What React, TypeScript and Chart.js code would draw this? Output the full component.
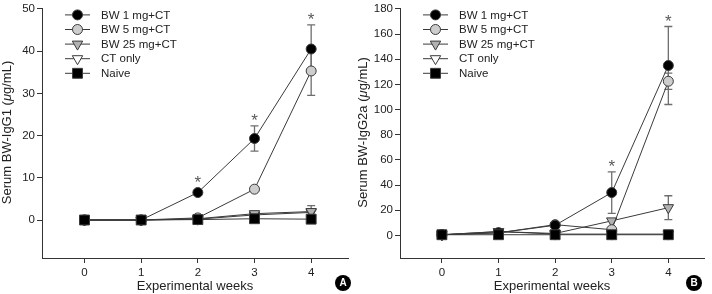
import React, { useEffect, useRef } from 'react';
import { Chart, registerables } from 'chart.js';
import { drawPoint } from 'chart.js/helpers';

Chart.register(...registerables);

const weeks = [0, 1, 2, 3, 4];
const seriesLabels = ['BW 1 mg+CT', 'BW 5 mg+CT', 'BW 25 mg+CT', 'CT only', 'Naive'];

// Panel A: serum BW-IgG1 (µg/mL)
const igg1Bw1 = [0, 0, 6.5, 19.3, 40.5];
const igg1Bw5 = [0, 0, 0.5, 7.3, 35.3];
const igg1Bw25 = [0, 0, 0.3, 1.5, 2.0];
const igg1Ct = [0, 0, 0.2, 1.2, 1.8];
const igg1Naive = [0, 0, 0.1, 0.3, 0.2];
const igg1Bw1Err = [0, 0, 0, 3.0, 5.7];
const igg1Bw5Err = [0, 0, 0, 0, 5.8];
const igg1Bw25Err = [0, 0, 0, 0, 1.4];
const igg1Sig = [false, false, true, true, true];
const igg1Ticks = [0, 10, 20, 30, 40, 50];

// Panel B: serum BW-IgG2a (µg/mL)
const igg2aBw1 = [0.5, 2, 8, 34, 135];
const igg2aBw5 = [0.5, 2, 8.5, 4.5, 122.5];
const igg2aBw25 = [0.5, 3, 1.5, 11.5, 22];
const igg2aCt = [0.5, 3, 1, 1, 1];
const igg2aNaive = [0.5, 0.5, 0.5, 0.5, 0.5];
const igg2aBw1Err = [0, 0, 0, 16.5, 31];
const igg2aBw5Err = [0, 0, 0, 0, 6.5];
const igg2aBw25Err = [0, 0, 0, 0, 9.5];
const igg2aSig = [false, false, false, true, true];
const igg2aTicks = [0, 20, 40, 60, 80, 100, 120, 140, 160, 180];

const FONT = "'Liberation Sans', Arial, sans-serif";
const LINE = '#3a3a3a';

const markers = [
  { pointStyle: 'circle', radius: 5, fill: '#000000', rotation: 0 },
  { pointStyle: 'circle', radius: 5, fill: '#cdcdcd', rotation: 0 },
  { pointStyle: 'triangle', radius: 6, fill: '#b2b2b2', rotation: 180 },
  { pointStyle: 'triangle', radius: 6, fill: '#ffffff', rotation: 180 },
  { pointStyle: 'rect', radius: 7, fill: '#000000', rotation: 0 },
];
// Naive drawn on top, CT only underneath everything
const drawOrder = [1, 2, 3, 4, 0];

type PanelCfg = {
  left: number;
  axisWidth: number;
  padTop: number;
  padRight: number;
  xMin: number;
  xMax: number;
  yMin: number;
  yMax: number;
  yTicks: number[];
  yTitle: [string, string, string];
  series: number[][];
  errors: number[][];
  sig: boolean[];
  badge: string;
  badgeX: number;
};

const panelA: PanelCfg = {
  left: 0,
  axisWidth: 42,
  padTop: 8,
  padRight: 2,
  xMin: -0.75,
  xMax: 4.65,
  yMin: -9,
  yMax: 50,
  yTicks: igg1Ticks,
  yTitle: ['Serum BW-IgG1 (', 'μ', 'g/mL)'],
  series: [igg1Bw1, igg1Bw5, igg1Bw25, igg1Ct, igg1Naive],
  errors: [igg1Bw1Err, igg1Bw5Err, igg1Bw25Err],
  sig: igg1Sig,
  badge: 'A',
  badgeX: 343,
};

const panelB: PanelCfg = {
  left: 356,
  axisWidth: 44,
  padTop: 7,
  padRight: 1,
  xMin: -0.74,
  xMax: 4.63,
  yMin: -18,
  yMax: 180,
  yTicks: igg2aTicks,
  yTitle: ['Serum BW-IgG2a (', 'μ', 'g/mL)'],
  series: [igg2aBw1, igg2aBw5, igg2aBw25, igg2aCt, igg2aNaive],
  errors: [igg2aBw1Err, igg2aBw5Err, igg2aBw25Err],
  sig: igg2aSig,
  badge: 'B',
  badgeX: 694,
};

function makePlugin(cfg: PanelCfg) {
  return {
    id: 'panelExtras',
    beforeDatasetsDraw(chart: any) {
      const { ctx, scales } = chart;
      const xs = scales.x;
      const ys = scales.y;
      ctx.save();
      ctx.strokeStyle = '#6e6e6e';
      ctx.lineWidth = 1.3;
      cfg.errors.forEach((errs, s) => {
        const vals = cfg.series[s];
        errs.forEach((e, i) => {
          if (!e) return;
          const x = xs.getPixelForValue(weeks[i]);
          const yHi = ys.getPixelForValue(vals[i] + e);
          const yLo = ys.getPixelForValue(vals[i] - e);
          ctx.beginPath();
          ctx.moveTo(x, yHi);
          ctx.lineTo(x, yLo);
          ctx.moveTo(x - 4, yHi);
          ctx.lineTo(x + 4, yHi);
          ctx.moveTo(x - 4, yLo);
          ctx.lineTo(x + 4, yLo);
          ctx.stroke();
        });
      });
      ctx.restore();
    },
    afterDatasetsDraw(chart: any) {
      const { ctx, scales } = chart;
      const xs = scales.x;
      const ys = scales.y;
      const vals = cfg.series[0];
      const errs = cfg.errors[0];
      ctx.save();
      ctx.fillStyle = '#5a5a5a';
      ctx.font = `17px ${FONT}`;
      ctx.textAlign = 'center';
      ctx.textBaseline = 'alphabetic';
      cfg.sig.forEach((flag, i) => {
        if (!flag) return;
        const x = xs.getPixelForValue(weeks[i]);
        const top = Math.min(
          ys.getPixelForValue(vals[i] + errs[i]),
          ys.getPixelForValue(vals[i]) - 5
        );
        ctx.fillText('*', x, top + 0.5);
      });
      ctx.restore();
    },
    afterDraw(chart: any) {
      const { ctx, chartArea } = chart;
      ctx.save();
      // legend
      const lx = chartArea.left;
      seriesLabels.forEach((label, i) => {
        const y = chartArea.top + 6 + i * 14.6;
        ctx.strokeStyle = LINE;
        ctx.lineWidth = 1;
        ctx.beginPath();
        ctx.moveTo(lx + 23, y);
        ctx.lineTo(lx + 48, y);
        ctx.stroke();
        const m = markers[i];
        ctx.fillStyle = m.fill;
        ctx.strokeStyle = LINE;
        ctx.lineWidth = 1;
        drawPoint(ctx, { pointStyle: m.pointStyle, rotation: m.rotation, radius: m.radius, borderWidth: 1 } as any, lx + 35.5, y);
        ctx.fillStyle = '#222222';
        ctx.font = `11.5px ${FONT}`;
        ctx.textAlign = 'left';
        ctx.textBaseline = 'middle';
        ctx.fillText(label, lx + 59, y + 0.5);
      });
      // rotated y-axis title with italic mu
      const [a, mu, b] = cfg.yTitle;
      const normal = `13px ${FONT}`;
      const italic = `italic 13px ${FONT}`;
      ctx.font = normal;
      const wa = ctx.measureText(a).width;
      const wb = ctx.measureText(b).width;
      ctx.font = italic;
      const wm = ctx.measureText(mu).width;
      const total = wa + wm + wb;
      ctx.translate(7, (chartArea.top + chartArea.bottom) / 2 - 1);
      ctx.rotate(-Math.PI / 2);
      ctx.fillStyle = '#222222';
      ctx.textAlign = 'left';
      ctx.textBaseline = 'middle';
      let cx = -total / 2;
      ctx.font = normal;
      ctx.fillText(a, cx, 0);
      cx += wa;
      ctx.font = italic;
      ctx.fillText(mu, cx, 0);
      cx += wm;
      ctx.font = normal;
      ctx.fillText(b, cx, 0);
      ctx.restore();
    },
  };
}

function Panel({ cfg }: { cfg: PanelCfg }) {
  const ref = useRef<HTMLCanvasElement>(null);
  useEffect(() => {
    const datasets = cfg.series.map((vals, s) => ({
      label: seriesLabels[s],
      data: weeks.map((w, i) => ({ x: w, y: vals[i] })),
      borderColor: LINE,
      borderWidth: 1,
      backgroundColor: markers[s].fill,
      pointStyle: markers[s].pointStyle as any,
      pointRotation: markers[s].rotation,
      pointRadius: markers[s].radius,
      pointBorderColor: LINE,
      pointBorderWidth: 1,
      pointBackgroundColor: markers[s].fill,
      tension: 0,
      order: drawOrder[s],
    }));
    const tickFont = { family: FONT, size: 11.5 };
    const chart = new Chart(ref.current!, {
      type: 'line',
      data: { datasets },
      options: {
        animation: false,
        responsive: false,
        layout: { padding: { top: cfg.padTop, right: cfg.padRight, left: 0, bottom: 0 } },
        plugins: { legend: { display: false }, tooltip: { enabled: false } },
        scales: {
          x: {
            type: 'linear',
            min: cfg.xMin,
            max: cfg.xMax,
            afterBuildTicks: (s: any) => {
              s.ticks = weeks.map((v) => ({ value: v }));
            },
            afterFit: (s: any) => {
              s.height = 36;
            },
            grid: { drawOnChartArea: false, drawTicks: true, tickLength: 5, color: '#333333' },
            border: { display: true, color: '#333333', width: 1 },
            ticks: { font: tickFont, color: '#222222', padding: 3, callback: (v: any) => String(v) },
            title: {
              display: true,
              text: 'Experimental weeks',
              font: { family: FONT, size: 13 },
              color: '#222222',
              padding: { top: 0, bottom: 0 },
            },
          },
          y: {
            type: 'linear',
            min: cfg.yMin,
            max: cfg.yMax,
            afterBuildTicks: (s: any) => {
              s.ticks = cfg.yTicks.map((v) => ({ value: v }));
            },
            afterFit: (s: any) => {
              s.width = cfg.axisWidth;
            },
            grid: { drawOnChartArea: false, drawTicks: true, tickLength: 5, color: '#333333' },
            border: { display: true, color: '#333333', width: 1 },
            ticks: { font: tickFont, color: '#222222', padding: 2, callback: (v: any) => String(v) },
          },
        },
      },
      plugins: [makePlugin(cfg)],
    } as any);
    return () => chart.destroy();
  }, [cfg]);
  return (
    <div style={{ position: 'absolute', left: cfg.left, top: 0, width: 356, height: 294 }}>
      <canvas ref={ref} width={356} height={294} style={{ width: 356, height: 294, display: 'block' }} />
      <div
        style={{
          position: 'absolute',
          left: cfg.badgeX - cfg.left - 8,
          top: 275,
          width: 16,
          height: 16,
          borderRadius: '50%',
          background: '#000',
          color: '#fff',
          font: `bold 10px ${FONT}`,
          lineHeight: '16px',
          textAlign: 'center',
        }}
      >
        {cfg.badge}
      </div>
    </div>
  );
}

export default function App() {
  return (
    <div style={{ position: 'absolute', left: 0, top: 0, width: 712, height: 294, background: '#fff' }}>
      <Panel cfg={panelA} />
      <Panel cfg={panelB} />
    </div>
  );
}
